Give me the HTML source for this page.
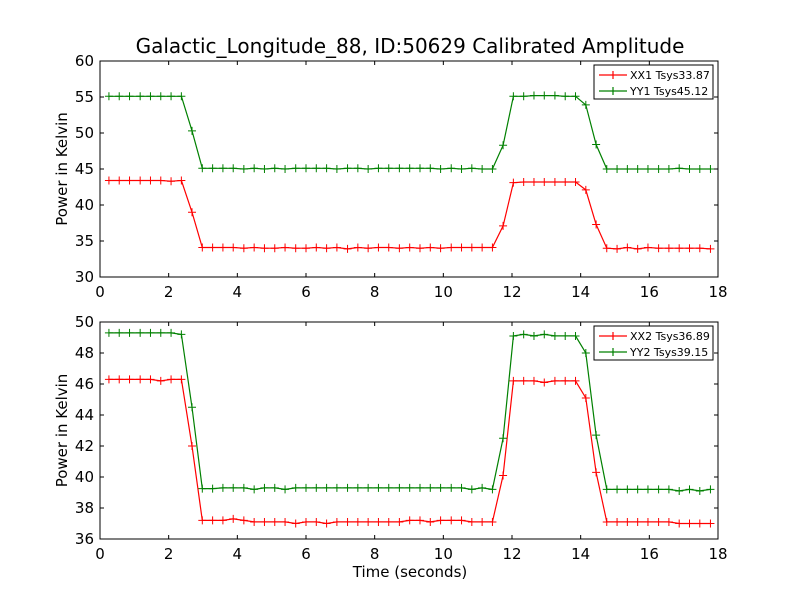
<!DOCTYPE html>
<html><head><meta charset="utf-8"><style>
body{margin:0;background:#fff;}
svg{display:block;font-family:"DejaVu Sans","Liberation Sans",sans-serif;}
</style></head><body>
<svg id="chart" width="800" height="600"></svg>
<script>
const times=[0.26,0.56,0.86,1.17,1.47,1.77,2.07,2.37,2.68,2.98,3.28,3.58,3.88,4.19,4.49,4.79,5.09,5.39,5.70,6.00,6.30,6.60,6.90,7.21,7.51,7.81,8.11,8.41,8.72,9.02,9.32,9.62,9.92,10.23,10.53,10.83,11.13,11.43,11.74,12.04,12.34,12.64,12.94,13.25,13.55,13.85,14.15,14.45,14.76,15.06,15.36,15.66,15.96,16.27,16.57,16.87,17.17,17.47,17.78];
const xx1=[43.4,43.4,43.4,43.4,43.4,43.4,43.3,43.4,39.0,34.1,34.1,34.1,34.1,34.0,34.1,34.0,34.0,34.1,34.0,34.0,34.1,34.0,34.1,33.9,34.1,34.0,34.1,34.1,34.0,34.1,34.0,34.1,34.0,34.1,34.1,34.1,34.1,34.1,37.1,43.1,43.2,43.2,43.2,43.2,43.2,43.2,42.1,37.3,34.0,33.9,34.1,33.9,34.1,34.0,34.0,34.0,34.0,34.0,33.9];
const yy1=[55.1,55.1,55.1,55.1,55.1,55.1,55.1,55.1,50.3,45.1,45.1,45.1,45.1,45.0,45.1,45.0,45.1,45.0,45.1,45.1,45.1,45.1,45.0,45.1,45.1,45.0,45.1,45.1,45.1,45.1,45.1,45.1,45.0,45.1,45.0,45.1,45.0,45.0,48.3,55.1,55.1,55.2,55.2,55.2,55.1,55.1,53.9,48.4,45.0,45.0,45.0,45.0,45.0,45.0,45.0,45.1,45.0,45.0,45.0];
const xx2=[46.3,46.3,46.3,46.3,46.3,46.2,46.3,46.3,42.0,37.2,37.2,37.2,37.3,37.2,37.1,37.1,37.1,37.1,37.0,37.1,37.1,37.0,37.1,37.1,37.1,37.1,37.1,37.1,37.1,37.2,37.2,37.1,37.2,37.2,37.2,37.1,37.1,37.1,40.1,46.2,46.2,46.2,46.1,46.2,46.2,46.2,45.1,40.3,37.1,37.1,37.1,37.1,37.1,37.1,37.1,37.0,37.0,37.0,37.0];
const yy2=[49.3,49.3,49.3,49.3,49.3,49.3,49.3,49.2,44.5,39.25,39.25,39.3,39.3,39.3,39.2,39.3,39.3,39.2,39.3,39.3,39.3,39.3,39.3,39.3,39.3,39.3,39.3,39.3,39.3,39.3,39.3,39.3,39.3,39.3,39.3,39.2,39.3,39.2,42.5,49.1,49.2,49.1,49.2,49.1,49.1,49.1,48.0,42.7,39.2,39.2,39.2,39.2,39.2,39.2,39.2,39.1,39.2,39.1,39.2];
const xTicks=[0,2,4,6,8,10,12,14,16,18];
const yTicksTop=[30,35,40,45,50,55,60];
const yTicksBot=[36,38,40,42,44,46,48,50];
const svg=document.getElementById('chart');
const NS='http://www.w3.org/2000/svg';
function mk(tag,attrs,parent){const e=document.createElementNS(NS,tag);for(const k in attrs)e.setAttribute(k,attrs[k]);(parent||svg).appendChild(e);return e;}
const X0=100,X1=718;
function xs(v){return X0+(v-0)/(18-0)*(X1-X0);}
function panel(name,top,bot,ymin,ymax,yt,series){
  const g=mk('g',{});
  
  
  const ys=v=>bot-(v-ymin)/(ymax-ymin)*(bot-top);
  series.forEach(s=>{
    const sg=mk('g',{},g);
    
    
    const pts=times.map((t,i)=>xs(t).toFixed(1)+','+ys(s.vals[i]).toFixed(1)).join(' ');
    mk('polyline',{points:pts,fill:'none',stroke:s.color,'stroke-width':1.2},sg);
    times.forEach((t,i)=>{
      const x=xs(t),y=ys(s.vals[i]);
      const m=mk('path',{d:`M${x-4},${y}H${x+4}M${x},${y-4}V${y+4}`,stroke:s.color,'stroke-width':1},sg);
      
      
    });
  });
  const frame=mk('rect',{x:X0,y:top,width:X1-X0,height:bot-top,fill:'none',stroke:'#000','stroke-width':1},g);
  
  
  xTicks.forEach(v=>{
    const x=xs(v);
    mk('path',{d:`M${x},${bot}v-4M${x},${top}v4`,stroke:'#000'},g);
    const tl=mk('text',{x:x,y:bot+20,'text-anchor':'middle','font-size':15},g);
    tl.textContent=v;
    
    
  });
  yt.forEach(v=>{
    const y=ys(v);
    mk('path',{d:`M${X0},${y}h4M${X1},${y}h-4`,stroke:'#000'},g);
    const tl=mk('text',{x:X0-6,y:y+5,'text-anchor':'end','font-size':15},g);
    tl.textContent=v;
    
    
  });
  const yl=mk('text',{x:0,y:0,'text-anchor':'middle','font-size':15,transform:`translate(67,${(top+bot)/2}) rotate(-90)`},g);
  yl.textContent='Power in Kelvin';
  
  
  const lg=mk('g',{},g);
  
  
  mk('rect',{x:594,y:top+4,width:119,height:34,fill:'#fff',stroke:'#000'},lg);
  series.forEach((s,i)=>{
    const y=top+14+i*16;
    mk('path',{d:`M599,${y}H627M613,${y-4}V${y+4}`,stroke:s.color,'stroke-width':1.2},lg);
    const t=mk('text',{x:630,y:y+4,'font-size':11},lg);
    t.textContent=s.label;
    
    
  });
}
panel('top-panel',61,277,30,60,yTicksTop,[{name:'xx1-line',vals:xx1,color:'#ff0000',label:'XX1 Tsys33.87'},{name:'yy1-line',vals:yy1,color:'#008000',label:'YY1 Tsys45.12'}]);
panel('bottom-panel',322,539,36,50,yTicksBot,[{name:'xx2-line',vals:xx2,color:'#ff0000',label:'XX2 Tsys36.89'},{name:'yy2-line',vals:yy2,color:'#008000',label:'YY2 Tsys39.15'}]);
const title=mk('text',{x:410,y:53,'text-anchor':'middle','font-size':20});
title.textContent='Galactic_Longitude_88, ID:50629 Calibrated Amplitude';


const xt=mk('text',{x:410,y:577,'text-anchor':'middle','font-size':15});
xt.textContent='Time (seconds)';


</script>
</body></html>
